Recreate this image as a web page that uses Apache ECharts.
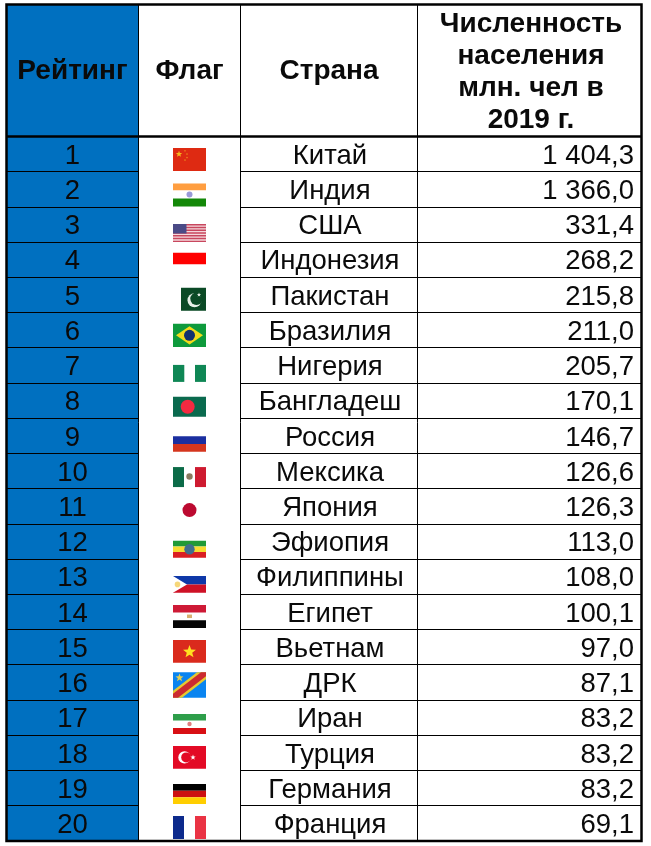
<!DOCTYPE html>
<html>
<head>
<meta charset="utf-8">
<style>
    html, body { margin: 0; padding: 0; background: #fff; }
    #main { width: 651px; height: 846px; }
</style>
<script src="https://cdn.jsdelivr.net/npm/echarts@6/dist/echarts.min.js"></script>
</head>
<body>
<div id="main"></div>
<script>
// данные таблицы
var headers = ['Рейтинг', 'Флаг', 'Страна', 'Численность\nнаселения\nмлн. чел в\n2019 г.'];
var ranks = [1, 2, 3, 4, 5, 6, 7, 8, 9, 10, 11, 12, 13, 14, 15, 16, 17, 18, 19, 20];
var flagCodes = ['cn', 'in', 'us', 'id', 'pk', 'br', 'ng', 'bd', 'ru', 'mx', 'jp', 'et', 'ph', 'eg', 'vn', 'cd', 'ir', 'tr', 'de', 'fr'];
var countries = ['Китай', 'Индия', 'США', 'Индонезия', 'Пакистан', 'Бразилия', 'Нигерия', 'Бангладеш', 'Россия', 'Мексика',
    'Япония', 'Эфиопия', 'Филиппины', 'Египет', 'Вьетнам', 'ДРК', 'Иран', 'Турция', 'Германия', 'Франция'];
var population = [1404.3, 1366.0, 331.4, 268.2, 215.8, 211.0, 205.7, 170.1, 146.7, 126.6,
    126.3, 113.0, 108.0, 100.1, 97.0, 87.1, 83.2, 83.2, 83.2, 69.1];

// разметка: границы колонок и шапки
var colEdges = [6.5, 138.5, 240.5, 417.5, 641.5];
var headerRows = 3.75;
var FONT = '"Liberation Sans", Arial, sans-serif';
var BLUE = '#0070C0';
var FLAG_W = 33;
var BODY_SIZE = 27.5;
var HEAD_SIZE = 28;

function fmt(v) {
    var s = v.toFixed(1).replace('.', ',');
    return s.replace(/\d(?=(\d{3}),)/, function (d) { return d + ' '; });
}

// чтобы линии в 1px не расплывались
function snap(v) {
    return Math.round(v - 0.5) + 0.5;
}

function rect(x, y, w, h, fill) {
    return { type: 'rect', shape: { x: x, y: y, width: w, height: h }, style: { fill: fill } };
}
function circle(cx, cy, r, fill) {
    return { type: 'circle', shape: { cx: cx, cy: cy, r: r }, style: { fill: fill } };
}
function poly(points, fill) {
    return { type: 'polygon', shape: { points: points }, style: { fill: fill } };
}
function star(cx, cy, r, fill) {
    var pts = [];
    for (var i = 0; i < 10; i++) {
        var a = -Math.PI / 2 + i * Math.PI / 5;
        var q = i % 2 ? r * 0.42 : r;
        pts.push([cx + q * Math.cos(a), cy + q * Math.sin(a)]);
    }
    return poly(pts, fill);
}

// рисунки флагов: сдвиг от верха строки, высота, элементы
var flagArt = {
    cn: { top: 11.5, h: 23, draw: function (w, h) {
        return [rect(0, 0, w, h, '#DE2A12'), star(6, 6, 3.4, '#F5B81E'), star(12, 2.8, 1.1, '#F0A020'),
            star(14, 6, 1.1, '#F0A020'), star(14, 9.5, 1.1, '#F0A020'), star(12, 12, 1.1, '#F0A020')];
    } },
    'in': { top: 11.6, h: 23, draw: function (w, h) {
        return [rect(0, 0, w, 7, '#FF9E40'), rect(0, 7, w, 8, '#fff'), rect(0, 15, w, 8, '#138808'), circle(w / 2, 11, 3, '#9A9AD8')];
    } },
    us: { top: 17, h: 18, draw: function (w, h) {
        var list = [rect(0, 0, w, h, '#F4D8DC')];
        for (var i = 0; i < 7; i++) {
            list.push(rect(0, i * h / 6.5, w, h / 13, '#C8475E'));
        }
        list.push(rect(0, 0, 13.5, 9.5, '#4A4A86'));
        return list;
    } },
    id: { top: 10.5, h: 23.6, draw: function (w, h) {
        return [rect(0, 0, w, 11.6, '#FF0000')];
    } },
    pk: { top: 10.3, h: 23, draw: function (w, h) {
        return [rect(8, 0, 25, h, '#0B4A26'), circle(21.5, 12.5, 7, '#E8F0E8'), circle(23.5, 11, 6.2, '#0B4A26'), star(26, 7, 2.2, '#E8F0E8')];
    } },
    br: { top: 11, h: 23.3, draw: function (w, h) {
        return [rect(0, 0, w, h, '#0E9A3C'), poly([[w / 2, 2.5], [w - 3, h / 2], [w / 2, h - 2.5], [3, h / 2]], '#F2DC1A'), circle(w / 2, h / 2, 5.5, '#12306E')];
    } },
    ng: { top: 17, h: 17, draw: function (w, h) {
        return [rect(0, 0, 11.3, h, '#0F8755'), rect(22, 0, 11, h, '#0F8755')];
    } },
    bd: { top: 13.6, h: 20, draw: function (w, h) {
        return [rect(0, 0, w, h, '#0A6A4E'), circle(14.7, h / 2, 7, '#F42A41')];
    } },
    ru: { top: 9.7, h: 23.7, draw: function (w, h) {
        return [rect(0, 8.3, w, 8, '#1B2FA0'), rect(0, 16, w, 7.7, '#D5361E')];
    } },
    mx: { top: 13.5, h: 20, draw: function (w, h) {
        return [rect(0, 0, 11, h, '#0B6B48'), rect(22, 0, 11, h, '#CE1A30'), circle(w / 2, 9.5, 3.2, '#8A7A60')];
    } },
    jp: { top: 10.3, h: 22, draw: function (w, h) {
        return [circle(16.5, h / 2, 7, '#BC0A30')];
    } },
    et: { top: 16.7, h: 17, draw: function (w, h) {
        return [rect(0, 0, w, 5.7, '#1F9A36'), rect(0, 5.7, w, 5.6, '#F6DC30'), rect(0, 11.3, w, 5.7, '#DA1E22'), circle(w / 2, h / 2, 5.2, '#3F6E8E')];
    } },
    ph: { top: 16.8, h: 16.7, draw: function (w, h) {
        return [rect(0, 0, w, h / 2, '#0E38A8'), rect(0, h / 2, w, h / 2, '#CE1126'), poly([[0, 0], [14, h / 2], [0, h]], '#FFFFFF'), circle(4.5, h / 2, 2.8, '#F6D77A')];
    } },
    eg: { top: 10.6, h: 23, draw: function (w, h) {
        return [rect(0, 0, w, 7.5, '#CE1A36'), rect(0, 15.3, w, 7.7, '#050505'), rect(14, 9.5, 5, 3.5, '#D8B070')];
    } },
    vn: { top: 10.3, h: 22.7, draw: function (w, h) {
        return [rect(0, 0, w, h, '#DA2A1D'), star(w / 2, h / 2 + 0.5, 6.8, '#FFE020')];
    } },
    cd: { top: 7.4, h: 25.4, draw: function (w, h) {
        return [rect(0, 0, w, h, '#0A84F0'), poly([[0, h - 7], [w - 9, 0], [w, 0], [w, 7], [9, h], [0, h]], '#E6C830'),
            poly([[0, h - 4], [w - 5, 0], [w, 0], [w, 4], [5, h], [0, h]], '#CC2A30'), star(6.5, 5.5, 4.2, '#E8D050')];
    } },
    ir: { top: 13.9, h: 20, draw: function (w, h) {
        return [rect(0, 0, w, 6.5, '#2E9E4A'), rect(0, 14, w, 6, '#D80F14'), circle(w / 2, 10, 2.2, '#E08080')];
    } },
    tr: { top: 10.7, h: 22.7, draw: function (w, h) {
        return [rect(0, 0, w, h, '#E30A25'), circle(11.5, h / 2, 6.2, '#fff'), circle(13.2, h / 2, 5, '#E30A25'), star(20, h / 2, 2.8, '#fff')];
    } },
    de: { top: 13.4, h: 20, draw: function (w, h) {
        return [rect(0, 0, w, 6.7, '#000'), rect(0, 6.7, w, 6.6, '#CC1010'), rect(0, 13.3, w, 6.7, '#FFCE00')];
    } },
    fr: { top: 10.2, h: 23, draw: function (w, h) {
        return [rect(0, 0, 11, h, '#0D2A8C'), rect(22, 0, 11, h, '#EA3344')];
    } }
};

function textEl(x, y, str, size, weight, align) {
    return {
        type: 'text',
        style: {
            x: x, y: y, text: str, fill: '#0a0a0a',
            font: weight + ' ' + size + 'px ' + FONT,
            lineHeight: 32,
            align: align, verticalAlign: 'middle'
        }
    };
}

function line(p1, p2, w) {
    return { type: 'line', shape: { x1: p1[0], y1: p1[1], x2: p2[0], y2: p2[1] }, style: { stroke: '#000', lineWidth: w } };
}

// строка таблицы
function renderRow(params, api) {
    var i = api.value(0);
    var top = api.coord([0, i]);
    var bottom = api.coord([0, i + 1]);
    var midY = (top[1] + bottom[1]) / 2 + 2;
    var lineY = snap(top[1]);
    var list = [];
    list.push(rect(colEdges[0], top[1], colEdges[1] - colEdges[0], bottom[1] - top[1], BLUE));
    if (i > 0) {
        list.push(line([colEdges[0], lineY], [colEdges[1], lineY], 1));
        list.push(line([colEdges[2], lineY], [colEdges[4], lineY], 1));
    }
    list.push(textEl((colEdges[0] + colEdges[1]) / 2, midY, String(ranks[i]), BODY_SIZE, 'normal', 'center'));
    list.push(textEl((colEdges[2] + colEdges[3]) / 2 + 1, midY, countries[i], BODY_SIZE, 'normal', 'center'));
    list.push(textEl(634, midY, fmt(population[i]), BODY_SIZE, 'normal', 'right'));

    var art = flagArt[flagCodes[i]];
    list.push({
        type: 'group',
        x: 173,
        y: top[1] + art.top,
        children: art.draw(FLAG_W, art.h)
    });
    return { type: 'group', children: list };
}

// шапка и рамка
function renderHeader(params, api) {
    var i = params.dataIndex;
    var top = api.coord([0, -headerRows])[1];
    var bottom = api.coord([0, 0])[1];
    var mid = (top + bottom) / 2;
    var list = [];
    if (i === 0) {
        list.push(rect(colEdges[0], top, colEdges[1] - colEdges[0], bottom - top, BLUE));
    }
    var x = (colEdges[i] + colEdges[i + 1]) / 2;
    list.push(textEl(i === 3 ? x + 1.5 : x, i === 3 ? mid + 2 : mid + 1, headers[i], HEAD_SIZE, 'bold', 'center'));
    return { type: 'group', children: list };
}

function renderFrame(params, api) {
    var top = api.coord([0, -headerRows])[1];
    var head = api.coord([0, 0])[1];
    var bottom = api.coord([0, ranks.length])[1];
    var l = colEdges[0], r = colEdges[4];
    return {
        type: 'group',
        children: [
            line([colEdges[1], top], [colEdges[1], bottom], 1),
            line([colEdges[2], top], [colEdges[2], bottom], 1),
            line([colEdges[3], top], [colEdges[3], bottom], 1),
            line([l, head], [r, head], 2.5),
            { type: 'rect', shape: { x: l, y: top, width: r - l, height: bottom - top }, style: { fill: 'none', stroke: '#000', lineWidth: 2.5 } }
        ]
    };
}

var chart = echarts.init(document.getElementById('main'), null, { renderer: 'canvas' });
chart.setOption({
    backgroundColor: '#fff',
    animation: false,
    grid: { left: 0, right: 0, top: 4.5, bottom: 5 },
    xAxis: { type: 'value', min: 0, max: 651, show: false },
    yAxis: { type: 'value', min: -headerRows, max: 20, inverse: true, show: false },
    series: [
        {
            type: 'custom',
            clip: false,
            silent: true,
            renderItem: renderHeader,
            encode: { x: 1, y: 0 },
            data: headers.map(function (h, i) { return [i, 0]; })
        },
        {
            type: 'custom',
            clip: false,
            silent: true,
            renderItem: renderRow,
            encode: { x: 1, y: 0 },
            data: ranks.map(function (r, i) { return [i, population[i]]; })
        },
        {
            type: 'custom',
            clip: false,
            silent: true,
            renderItem: renderFrame,
            encode: { x: 1, y: 0 },
            data: [[0, 0]]
        }
    ]
});
</script>
</body>
</html>
